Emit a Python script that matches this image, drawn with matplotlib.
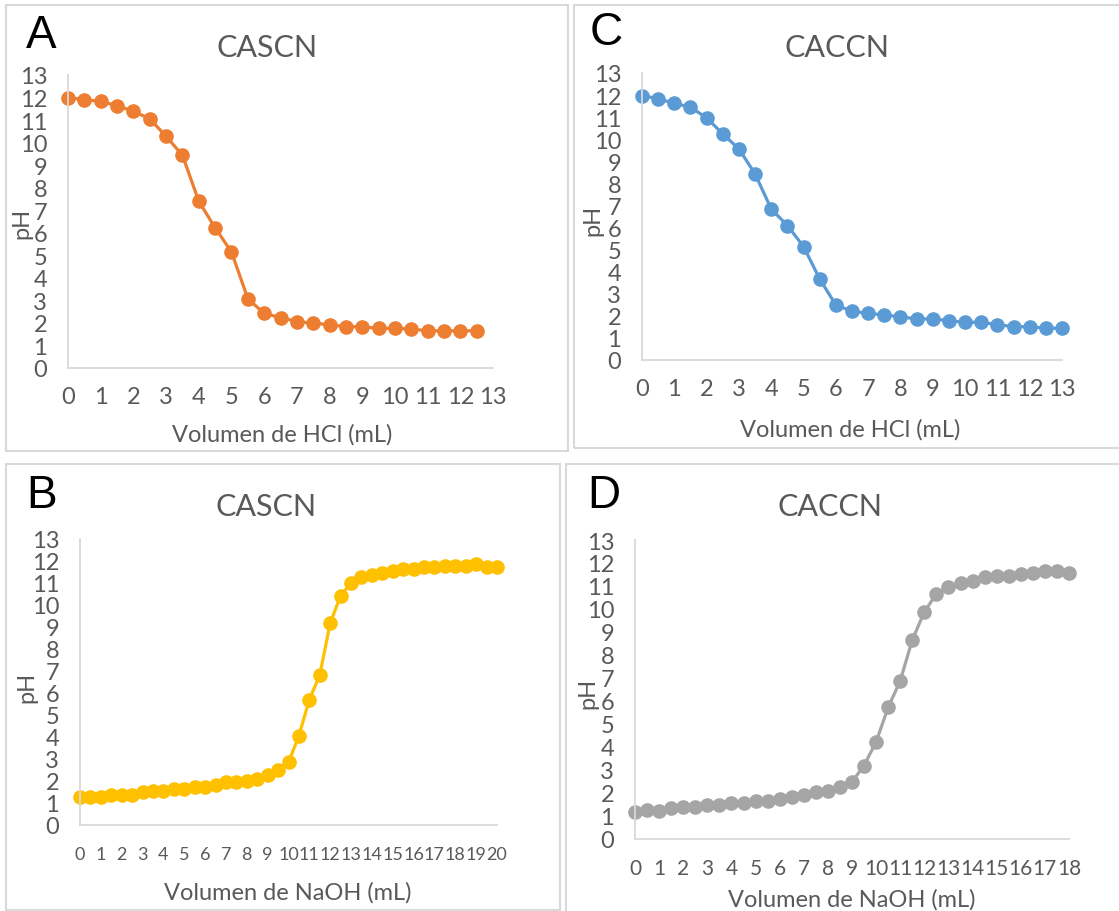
import matplotlib
matplotlib.use("Agg")
import matplotlib.pyplot as plt
from matplotlib.patches import Rectangle

# volumes (mL) and pH readings for each titration
vol_a = [0, 0.5, 1, 1.5, 2, 2.5, 3, 3.5, 4, 4.5, 5, 5.5, 6, 6.5, 7, 7.5, 8, 8.5,
         9, 9.5, 10, 10.5, 11, 11.5, 12, 12.5]
ph_a = [12.0, 11.9, 11.83, 11.64, 11.39, 11.06, 10.28, 9.44, 7.40, 6.22, 5.15, 3.08,
        2.42, 2.24, 2.06, 1.99, 1.92, 1.83, 1.83, 1.76, 1.76, 1.73, 1.65, 1.65, 1.65, 1.65]

vol_c = [0, 0.5, 1, 1.5, 2, 2.5, 3, 3.5, 4, 4.5, 5, 5.5, 6, 6.5, 7, 7.5, 8, 8.5,
         9, 9.5, 10, 10.5, 11, 11.5, 12, 12.5, 13]
ph_c = [11.98, 11.83, 11.63, 11.45, 10.97, 10.24, 9.56, 8.43, 6.84, 6.09, 5.14, 3.67,
        2.49, 2.21, 2.11, 2.04, 1.96, 1.86, 1.86, 1.78, 1.71, 1.71, 1.60, 1.51, 1.51,
        1.44, 1.44]

vol_b = [0, 0.5, 1, 1.5, 2, 2.5, 3, 3.5, 4, 4.5, 5, 5.5, 6, 6.5, 7, 7.5, 8, 8.5,
         9, 9.5, 10, 10.5, 11, 11.5, 12, 12.5, 13, 13.5, 14, 14.5, 15, 15.5, 16,
         16.5, 17, 17.5, 18, 18.5, 19, 19.5, 20]
ph_b = [1.29, 1.26, 1.26, 1.38, 1.38, 1.38, 1.48, 1.56, 1.56, 1.64, 1.64, 1.71, 1.74,
        1.83, 1.94, 1.94, 2.02, 2.09, 2.27, 2.52, 2.85, 4.06, 5.70, 6.82, 9.18, 10.42,
        11.0, 11.26, 11.36, 11.45, 11.56, 11.64, 11.64, 11.71, 11.71, 11.79, 11.79,
        11.79, 11.86, 11.71, 11.71]

vol_d = [0, 0.5, 1, 1.5, 2, 2.5, 3, 3.5, 4, 4.5, 5, 5.5, 6, 6.5, 7, 7.5, 8, 8.5,
         9, 9.5, 10, 10.5, 11, 11.5, 12, 12.5, 13, 13.5, 14, 14.5, 15, 15.5, 16,
         16.5, 17, 17.5, 18]
ph_d = [1.19, 1.26, 1.23, 1.33, 1.41, 1.38, 1.48, 1.48, 1.57, 1.57, 1.67, 1.67, 1.74,
        1.81, 1.91, 2.03, 2.07, 2.25, 2.49, 3.19, 4.23, 5.72, 6.88, 8.65, 9.88, 10.65,
        10.97, 11.13, 11.23, 11.38, 11.45, 11.45, 11.52, 11.57, 11.67, 11.67, 11.57]

W, H = 1119, 912
fig = plt.figure(figsize=(W / 100, H / 100), dpi=100)

grey_txt = "#595959"
txt_font = "Lato"
txt_size = 17


def px(x, y):
    # pixel position (top-left origin) -> figure fraction
    return x / W, 1 - y / H


def panel(box, ax_box, x, y, color, xmax, xtick_size, letter, title, xlabel,
          letter_xy, title_xy, ylab_xy, xlab_xy):
    # light frame around each panel
    x0, y0, x1, y1 = box
    fig.patches.append(Rectangle((x0 / W, 1 - y1 / H), (x1 - x0) / W, (y1 - y0) / H,
                                 transform=fig.transFigure, fill=False,
                                 edgecolor="#D9D9D9", linewidth=1.5))
    l, t, r, b = ax_box
    ax = fig.add_axes([l / W, 1 - b / H, (r - l) / W, (b - t) / H])
    ax.plot(x, y, color=color, linewidth=2.3, marker="o", markersize=9.5, clip_on=False)
    ax.set_xlim(0, xmax)
    ax.set_ylim(0, 13)
    ax.set_xticks(range(0, xmax + 1))
    ax.set_yticks(range(0, 14))
    for s in ["top", "right"]:
        ax.spines[s].set_visible(False)
    for s in ["left", "bottom"]:
        ax.spines[s].set_color("#D9D9D9")
        ax.spines[s].set_linewidth(1.3)
    ax.tick_params(length=0, labelcolor=grey_txt)
    ax.tick_params(axis="y", pad=15, labelsize=txt_size)
    # long NaOH axes need slightly smaller labels so neighbours only touch
    ax.tick_params(axis="x", pad=13 + (txt_size - xtick_size) * 0.5, labelsize=xtick_size)
    for lab in ax.get_xticklabels() + ax.get_yticklabels():
        lab.set_fontfamily(txt_font)
    ax.set_facecolor("none")

    fig.text(*px(*letter_xy), letter, fontsize=33, family="Liberation Sans",
             color="black", ha="center", va="center")
    fig.text(*px(*title_xy), title, fontsize=22, family=txt_font,
             color=grey_txt, ha="center", va="center")
    fig.text(*px(*ylab_xy), "pH", fontsize=txt_size, family=txt_font,
             color=grey_txt, ha="center", va="center", rotation=90)
    fig.text(*px(*xlab_xy), xlabel, fontsize=txt_size, family=txt_font,
             color=grey_txt, ha="center", va="center")
    return ax


panel((6, 6, 568, 452), (68, 76, 493, 369), vol_a, ph_a, "#ED7D31", 13, 17, "A",
      "CASCN", "Volumen de HCl (mL)", (41, 36), (267, 48), (22, 223), (282, 435))
panel((574, 6, 1125, 449), (642, 74, 1062, 361), vol_c, ph_c, "#5B9BD5", 13, 17, "C",
      "CACCN", "Volumen de HCl (mL)", (606, 33), (837, 48), (593, 220), (850, 430))
panel((6, 465, 560, 911), (80, 540, 497, 826), vol_b, ph_b, "#FFC000", 20, 13, "B",
      "CASCN", "Volumen de NaOH (mL)", (42, 496), (266, 507), (27, 687), (288, 893))
panel((566, 465, 1125, 918), (635, 541, 1069, 840), vol_d, ph_d, "#A5A5A5", 18, 15, "D",
      "CACCN", "Volumen de NaOH (mL)", (604, 496), (830, 507), (588, 693), (852, 900))

fig.savefig("out.png", dpi=100, facecolor="white")
plt.close(fig)
